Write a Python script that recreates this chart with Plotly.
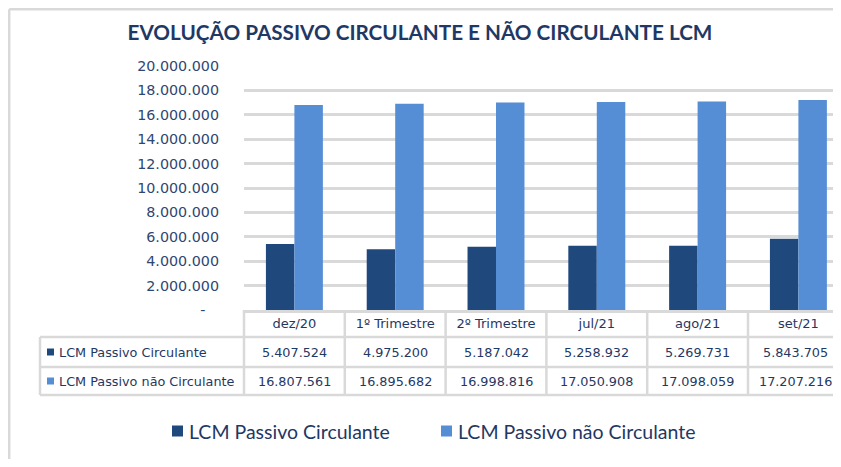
import plotly.graph_objects as go

categories = ["dez/20", "1º Trimestre", "2º Trimestre", "jul/21", "ago/21", "set/21"]
series_names = ["LCM Passivo Circulante", "LCM Passivo não Circulante"]
circulante = [5407524, 4975200, 5187042, 5258932, 5269731, 5843705]
nao_circulante = [16807561, 16895682, 16998816, 17050908, 17098059, 17207216]
y_tickvals = [0, 2000000, 4000000, 6000000, 8000000, 10000000, 12000000, 14000000, 16000000, 18000000, 20000000]
y_ticktext = ["-\u00a0\u00a0\u00a0", "2.000.000", "4.000.000", "6.000.000", "8.000.000", "10.000.000",
              "12.000.000", "14.000.000", "16.000.000", "18.000.000", "20.000.000"]

title_text = "EVOLUÇÃO PASSIVO CIRCULANTE E NÃO CIRCULANTE LCM"

DARK = "#1F497D"
LIGHT = "#558ED5"
GRID = "#D9D9D9"
TXT = "#1F3864"
HUMAN = "Lato, Open Sans, sans-serif"
BODY = "DejaVu Sans, Verdana, sans-serif"


def fmt(v):
    return f"{v:,}".replace(",", ".")


# the page has an 8px body margin; the figure is sized to fit the body box
OFF = 8
W, H = 825, 451
CAT_W = 100.8
L, R, T, B = 236, 0, 58, 149
PW = W - L - R
PH = H - T - B


def px_x(x):  # page pixel -> paper x
    return (x - OFF - L) / PW


def px_y(y):  # page pixel -> paper y
    return (H - B - (y - OFF)) / PH


fig = go.Figure()
xs = list(range(len(categories)))
fig.add_trace(go.Bar(x=xs, y=circulante, name=series_names[0], showlegend=False,
                     marker=dict(color=DARK, line=dict(width=0))))
fig.add_trace(go.Bar(x=xs, y=nao_circulante, name=series_names[1], showlegend=False,
                     marker=dict(color=LIGHT, line=dict(width=0))))

LW = 2.5
RIGHT = px_x(OFF + W)
shapes = []
# outer frame (left and top edges)
shapes.append(dict(type="line", xref="paper", yref="paper", x0=px_x(9.2), x1=RIGHT, y0=px_y(9.2), y1=px_y(9.2),
                   line=dict(color=GRID, width=LW), layer="below"))
shapes.append(dict(type="line", xref="paper", yref="paper", x0=px_x(9.2), x1=px_x(9.2), y0=px_y(9.2), y1=px_y(OFF + H),
                   line=dict(color=GRID, width=LW), layer="below"))
# data table grid
for yy in [337, 367, 395]:
    shapes.append(dict(type="line", xref="paper", yref="paper", x0=px_x(40), x1=RIGHT, y0=px_y(yy), y1=px_y(yy),
                       line=dict(color=GRID, width=LW)))
shapes.append(dict(type="line", xref="paper", yref="paper", x0=px_x(40), x1=px_x(40), y0=px_y(337), y1=px_y(395),
                   line=dict(color=GRID, width=LW)))
shapes.append(dict(type="line", xref="paper", yref="paper", x0=0, x1=0, y0=px_y(310), y1=px_y(395),
                   line=dict(color=GRID, width=LW)))
for i in range(1, len(categories)):
    shapes.append(dict(type="line", xref="x", yref="paper", x0=i - 0.5, x1=i - 0.5, y0=px_y(310), y1=px_y(395),
                       line=dict(color=GRID, width=LW)))

annotations = []
for i in xs:
    shift = -3 if i == len(xs) - 1 else 0
    annotations.append(dict(x=i, y=px_y(352), xref="x", yref="paper", text=fmt(circulante[i]), showarrow=False,
                            xshift=shift, font=dict(family=BODY, size=12.8, color=TXT),
                            xanchor="center", yanchor="middle"))
    annotations.append(dict(x=i, y=px_y(381), xref="x", yref="paper", text=fmt(nao_circulante[i]), showarrow=False,
                            xshift=shift, font=dict(family=BODY, size=12.8, color=TXT),
                            xanchor="center", yanchor="middle"))

# row labels with colour keys
for name, col, yy in [(series_names[0], DARK, 352), (series_names[1], LIGHT, 381)]:
    shapes.append(dict(type="rect", xref="paper", yref="paper", x0=px_x(47), x1=px_x(54), y0=px_y(yy - 3.5),
                       y1=px_y(yy + 3.5), fillcolor=col, line=dict(width=0)))
    annotations.append(dict(x=px_x(57), y=px_y(yy), xref="paper", yref="paper", text=name, showarrow=False,
                            font=dict(family=BODY, size=12.8, color=TXT), xanchor="left", yanchor="middle"))

# legend below the table
for name, col, sx in [(series_names[0], DARK, 172), (series_names[1], LIGHT, 441)]:
    shapes.append(dict(type="rect", xref="paper", yref="paper", x0=px_x(sx), x1=px_x(sx + 11), y0=px_y(425.5),
                       y1=px_y(436.5), fillcolor=col, line=dict(width=0)))
    annotations.append(dict(x=px_x(sx + 15), y=px_y(431), xref="paper", yref="paper", text=name, showarrow=False,
                            font=dict(family=HUMAN, size=19.5, color=TXT), xanchor="left", yanchor="middle"))

fig.update_layout(
    width=W, height=H,
    margin=dict(l=L, r=R, t=T, b=B, pad=0),
    paper_bgcolor="white", plot_bgcolor="white",
    separators=",.",
    barmode="group", bargap=0.435, bargroupgap=0,
    title=dict(text=f"<b>{title_text}</b>", x=(420 - OFF) / W, xref="container", xanchor="center",
               y=1 - (33 - OFF) / H, yref="container", yanchor="middle",
               font=dict(family=HUMAN, size=20.7, color=TXT)),
    xaxis=dict(range=[-0.5, -0.5 + PW / CAT_W], tickvals=xs, ticktext=categories,
               showgrid=False, zeroline=False, showline=True, linecolor=GRID, linewidth=LW, ticks="",
               tickfont=dict(family=BODY, size=13, color=TXT), fixedrange=True),
    yaxis=dict(range=[0, 20000000], tickvals=y_tickvals, ticktext=y_ticktext, showgrid=True, gridcolor=GRID,
               gridwidth=LW, zeroline=False, showline=False, ticks="", ticklabelstandoff=24,
               tickfont=dict(family=BODY, size=14.3, color="#2E4672")),
    showlegend=False,
    shapes=shapes, annotations=annotations,
)

fig.write_html("out.html")
